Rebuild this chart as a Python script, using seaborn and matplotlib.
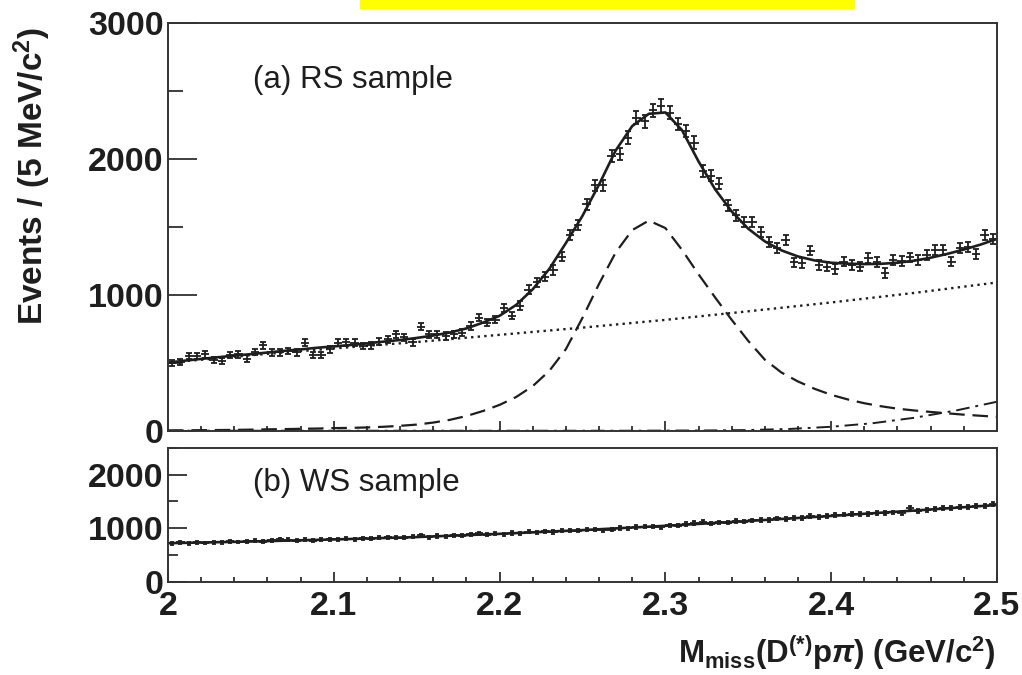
import matplotlib
matplotlib.use("Agg")
import matplotlib.pyplot as plt
from matplotlib.patches import Rectangle
from matplotlib.ticker import MultipleLocator
import numpy as np
import seaborn as sns

# bin centres, 5 MeV bins from 2.0 to 2.5
bin_centres = np.linspace(2.0025, 2.4975, 100)

rs_counts = [
    496, 506, 547, 547, 562, 518, 511, 555, 562, 530,
    579, 628, 576, 576, 586, 576, 648, 555, 555, 598,
    648, 652, 648, 623, 628, 655, 672, 708, 686, 650,
    766, 708, 708, 696, 708, 722, 769, 832, 795, 817,
    905, 847, 920, 1036, 1090, 1131, 1182, 1280, 1438, 1511,
    1665, 1803, 1803, 2022, 2036, 2155, 2302, 2277, 2357, 2387,
    2338, 2255, 2204, 2119, 1912, 1876, 1817, 1657, 1584, 1535,
    1535, 1462, 1389, 1343, 1401, 1238, 1233, 1325, 1219, 1207,
    1188, 1243, 1219, 1207, 1272, 1240, 1159, 1257, 1249, 1274,
    1255, 1290, 1326, 1326, 1243, 1346, 1354, 1299, 1438, 1408,
]

ws_counts = [
    717, 735, 720, 736, 724, 740, 740, 756, 742, 758,
    764, 746, 776, 790, 789, 768, 782, 766, 788, 797,
    797, 806, 796, 811, 800, 822, 834, 826, 820, 837,
    866, 834, 855, 848, 870, 863, 884, 905, 881, 897,
    890, 911, 907, 934, 923, 941, 930, 952, 957, 955,
    976, 971, 959, 972, 1005, 1000, 1026, 1027, 1027, 1018,
    1054, 1048, 1075, 1096, 1125, 1084, 1108, 1104, 1131, 1125,
    1146, 1159, 1154, 1183, 1170, 1197, 1187, 1226, 1204, 1230,
    1243, 1255, 1260, 1268, 1270, 1290, 1292, 1295, 1287, 1373,
    1320, 1348, 1365, 1385, 1380, 1393, 1399, 1416, 1421, 1453,
]

# fit curves read at 10 MeV steps
fit_x = np.linspace(2.0, 2.5, 51)
rs_total = [
    500, 515, 528, 540, 552, 563, 575, 587, 598, 610,
    620, 630, 642, 655, 667, 682, 700, 722, 752, 795,
    845, 925, 1040, 1190, 1380, 1580, 1810, 2060, 2240, 2330,
    2340, 2210, 1980, 1775, 1612, 1485, 1392, 1326, 1281, 1252,
    1235, 1228, 1225, 1227, 1235, 1250, 1272, 1300, 1332, 1368,
    1410,
]
rs_signal = [
    2, 3, 4, 5, 6, 8, 10, 12, 14, 16,
    19, 21, 24, 29, 36, 45, 60, 80, 108, 145,
    190, 248, 328, 440, 600, 830, 1080, 1310, 1475, 1545,
    1490, 1330, 1150, 980, 815, 660, 522, 428, 362, 308,
    264, 230, 202, 180, 162, 149, 138, 128, 118, 110,
    102,
]

# smooth background, 50 MeV steps
bkg_x = np.linspace(2.0, 2.5, 11)
rs_bkg = [500, 555, 605, 652, 705, 758, 815, 878, 943, 1013, 1090]

# second background component, 25 MeV steps
bkg2_x = np.linspace(2.0, 2.5, 21)
rs_bkg2 = [0, 0, 0, 0, 0, 0, 0, 0, 0, 0, 0, 0, 1, 2, 5, 13, 29, 55, 95, 148, 213]

ws_fit = [720, 752, 790, 835, 895, 965, 1045, 1135, 1230, 1330, 1435]

sns.set_style("white")
plt.rcParams["font.family"] = ["Liberation Sans", "DejaVu Sans"]
plt.rcParams["mathtext.fontset"] = "custom"
plt.rcParams["mathtext.rm"] = "Liberation Sans:bold"
plt.rcParams["mathtext.it"] = "Liberation Sans:italic:bold"
plt.rcParams["mathtext.bf"] = "Liberation Sans:bold"

ink = "#1e1e1e"
fig = plt.figure(figsize=(10.22, 6.75), dpi=100)
ax_top = fig.add_axes([0.1644, 0.3619, 0.8111, 0.6045])
ax_bot = fig.add_axes([0.1644, 0.1382, 0.8111, 0.1981])

# --- RS panel
ax = ax_top
sns.lineplot(x=fit_x, y=rs_total, ax=ax, color=ink, lw=1.9)
sns.lineplot(x=fit_x, y=rs_signal, ax=ax, color=ink, lw=1.6,
             linestyle=(0, (7, 3.5)))
sns.lineplot(x=bkg_x, y=rs_bkg, ax=ax, color=ink, lw=1.7,
             linestyle=(0, (1, 1.8)))
sns.lineplot(x=bkg2_x, y=rs_bkg2, ax=ax, color=ink, lw=1.4,
             linestyle=(0, (7, 3, 1.5, 3)))
ax.errorbar(bin_centres, rs_counts, yerr=np.sqrt(rs_counts), fmt="none",
            ecolor=ink, elinewidth=1.3, capsize=2.2, capthick=1.3)
ax.errorbar(bin_centres, rs_counts, xerr=0.0025, fmt="none",
            ecolor=ink, elinewidth=1.3)
ax.set_ylim(0, 3000)
ax.yaxis.set_major_locator(MultipleLocator(1000))
ax.yaxis.set_minor_locator(MultipleLocator(500))
ax.text(0.1025, 0.86, "(a) RS sample", transform=ax.transAxes,
        fontsize=22.5, va="center", ha="left", color=ink)

# --- WS panel
ax = ax_bot
sns.lineplot(x=bkg_x, y=ws_fit, ax=ax, color=ink, lw=1.9)
ax.errorbar(bin_centres, ws_counts, yerr=np.sqrt(ws_counts), fmt="none",
            ecolor=ink, elinewidth=1.3, capsize=1.5, capthick=1.3)
ax.errorbar(bin_centres, ws_counts, xerr=0.0025, fmt="none",
            ecolor=ink, elinewidth=1.3)
ax.set_ylim(0, 2500)
ax.yaxis.set_major_locator(MultipleLocator(1000))
ax.yaxis.set_minor_locator(MultipleLocator(500))
ax.set_xticks([2.0, 2.1, 2.2, 2.3, 2.4, 2.5])
ax.set_xticklabels(["2", "2.1", "2.2", "2.3", "2.4", "2.5"])
ax.text(0.1025, 0.74, "(b) WS sample", transform=ax.transAxes,
        fontsize=22.5, va="center", ha="left", color=ink)

for ax in (ax_top, ax_bot):
    ax.set_xlim(2.0, 2.5)
    ax.xaxis.set_minor_locator(MultipleLocator(0.02))
    ax.tick_params(which="both", direction="in", bottom=True, left=True,
                   top=False, right=False, color=ink, width=1.2)
    ax.tick_params(axis="x", which="major", length=7, pad=7)
    ax.tick_params(axis="x", which="minor", length=3.5)
    ax.tick_params(axis="y", pad=3)
    for lab in ax.get_xticklabels() + ax.get_yticklabels():
        lab.set_fontsize(24.5)
        lab.set_fontweight("bold")
        lab.set_color(ink)
    for sp in ax.spines.values():
        sp.set_color("#333333")
        sp.set_linewidth(1.4)
    ax.set_xlabel("")
    ax.set_ylabel("")

ax_top.tick_params(axis="y", which="major", length=21)
ax_top.tick_params(axis="y", which="minor", length=11)
ax_top.tick_params(axis="x", labelbottom=False)
ax_bot.tick_params(axis="y", which="major", length=14)
ax_bot.tick_params(axis="y", which="minor", length=7)

fig.text(32 / 1022, 1 - 27 / 675, r"Events / (5 MeV/c$^{2}$)", rotation=90,
         ha="center", va="top", fontsize=24, fontweight="bold", color=ink)
fig.text(996 / 1022, 1 - 663 / 675,
         r"M$_{\mathrm{miss}}$(D$^{(*)}$p$\pi$) (GeV/c$^{2}$)",
         ha="right", va="baseline", fontsize=22.5, fontweight="bold", color=ink)

# highlight strip at the top edge
fig.patches.append(Rectangle((360 / 1022, 1 - 9 / 675), 495 / 1022, 9 / 675,
                             transform=fig.transFigure, facecolor="#ffff00",
                             edgecolor="none"))

fig.savefig("out.png", dpi=100)
